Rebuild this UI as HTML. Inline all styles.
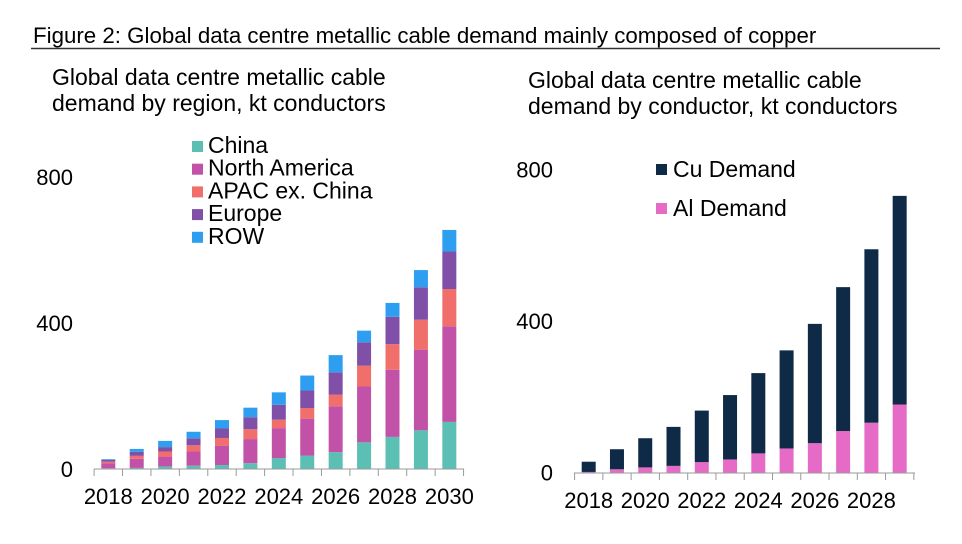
<!DOCTYPE html>
<html><head><meta charset="utf-8"><style>
body{margin:0;background:#fff;}
svg{display:block;font-family:"Liberation Sans",Arial,sans-serif;}
</style></head><body>
<svg id="s" width="962" height="544" viewBox="0 0 962 544">
<text x="33" y="43" font-size="22.3" fill="#000">Figure 2: Global data centre metallic cable demand mainly composed of copper</text>
<line x1="31" y1="48.5" x2="940" y2="48.5" stroke="#333" stroke-width="1.5"/>
<g font-size="23">
<text x="52" y="85">Global data centre metallic cable</text>
<text x="52" y="111">demand by region, kt conductors</text></g>
<g font-size="23">
<text x="528" y="88">Global data centre metallic cable</text>
<text x="528" y="114">demand by conductor, kt conductors</text></g>
<g id="L"></g><g id="R"></g>
</svg>
<script>
const yearsL=[2018,2019,2020,2021,2022,2023,2024,2025,2026,2027,2028,2029,2030];
const china=[2,3,7,9,11,16,30,37,46,73,88,106,129];
const northAmerica=[14,25,27,39,53,66,82,101,126,153,184,221,262];
const apac=[4,8,14,17,21,27,23,29,32,57,70,82,102];
const europe=[5,11,12,19,26,33,41,48,61,64,75,89,103];
const row=[2,8,17,18,23,26,34,41,47,32,38,47,59];
const yTicksL=[0,400,800];
const yearsR=[2018,2019,2020,2021,2022,2023,2024,2025,2026,2027,2028,2029];
const alDemand=[2,9,14,18,28,35,51,64,78,110,132,180];
const cuDemand=[27,53,77,103,136,170,212,259,315,380,458,551];
const yTicksR=[0,400,800];
const NS='http://www.w3.org/2000/svg';
function mk(p,t,a,txt){const e=document.createElementNS(NS,t);for(const k in a)e.setAttribute(k,a[k]);if(txt!=null)e.textContent=txt;p.appendChild(e);return e;}
// left
const L=document.getElementById('L');
const yL=v=>469-v*0.365, xL=i=>108.3+i*28.42;
const serL=[["China",china,"#5cbfb4"],["North America",northAmerica,"#c252a8"],["APAC ex. China",apac,"#f06f6a"],["Europe",europe,"#8050a8"],["ROW",row,"#2e9ff0"]];
yearsL.forEach((y,i)=>{let acc=0;serL.forEach(s=>{const v=s[1][i];const r=mk(L,'rect',{x:xL(i)-7,y:yL(acc+v),width:14,height:v*0.365,fill:s[2]});

acc+=v;});});
const axL=mk(L,'line',{x1:94,y1:469,x2:464,y2:469,stroke:'#999','stroke-width':1});


for(let i=0;i<=yearsL.length;i++){const t=mk(L,'line',{x1:xL(i)-14.2,y1:469,x2:xL(i)-14.2,y2:476,stroke:'#999'});

}
yearsL.forEach((y,i)=>{if(i%2==0){const t=mk(L,'text',{x:xL(i),y:504,'font-size':22,'text-anchor':'middle'},y);

}});
yTicksL.forEach(v=>{const t=mk(L,'text',{x:73,y:yL(v)+8,'font-size':22,'text-anchor':'end'},v);

});
serL.forEach((s,i)=>{const g=mk(L,'g',{});


mk(g,'rect',{x:192,y:141+i*22.7,width:11,height:11,fill:s[2]});mk(g,'text',{x:208,y:153+i*22.7,'font-size':23},s[0]);});
// right
const R=document.getElementById('R');
const yR=v=>472.7-v*0.3787, xR=i=>588.7+i*28.27;
const serR=[["Al Demand",alDemand,"#e66bc6"],["Cu Demand",cuDemand,"#0f2a46"]];
yearsR.forEach((y,i)=>{let acc=0;serR.forEach(s=>{const v=s[1][i];const r=mk(R,'rect',{x:xR(i)-7,y:yR(acc+v),width:14,height:v*0.3787,fill:s[2]});

acc+=v;});});
const axR=mk(R,'line',{x1:574,y1:473,x2:915,y2:473,stroke:'#999','stroke-width':1});


for(let i=0;i<=yearsR.length;i++){const t=mk(R,'line',{x1:xR(i)-14.1,y1:473,x2:xR(i)-14.1,y2:480,stroke:'#999'});

}
yearsR.forEach((y,i)=>{if(i%2==0){const t=mk(R,'text',{x:xR(i),y:508,'font-size':22,'text-anchor':'middle'},y);

}});
yTicksR.forEach(v=>{const t=mk(R,'text',{x:553,y:yR(v)+8,'font-size':22,'text-anchor':'end'},v);

});
[["Cu Demand","#0f2a46",177],["Al Demand","#e66bc6",216]].forEach(s=>{const g=mk(R,'g',{});


mk(g,'rect',{x:656,y:s[2]-13,width:11,height:11,fill:s[1]});mk(g,'text',{x:673,y:s[2],'font-size':23},s[0]);});
</script>
</body></html>
